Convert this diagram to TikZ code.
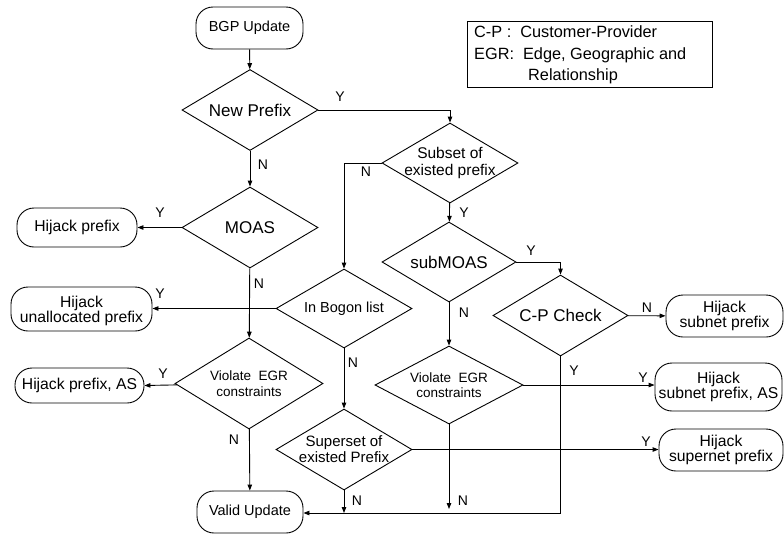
\documentclass[tikz,border=0pt]{standalone}
\usepackage{fontspec}
\setmainfont{Liberation Sans}
\usetikzlibrary{shapes.geometric,arrows.meta,calc}
\newcommand{\fs}[1]{\fontsize{#1pt}{#1pt}\selectfont}
\tikzset{
  dia/.style={draw, shape=diamond, inner sep=0pt, line width=0.9pt},
  term/.style={draw, rectangle, rounded corners=17pt, inner sep=0pt, align=center, line width=0.9pt, font=\fs{15.7}},
  txt/.style={inner sep=0pt, align=center},
  lab/.style={inner sep=0pt, font=\fs{14}},
  arr/.style={-{Triangle[length=6pt,width=4.5pt]}, line width=0.9pt},
  ln/.style={line width=0.9pt}
}
\begin{document}
\begin{tikzpicture}[x=1pt,y=-1pt]
\useasboundingbox (0,0) rectangle (784,533);
% terminals
\node[term, minimum width=107pt, minimum height=42pt, font=\fs{14.5}] (bgp) at (249.5,28) {BGP Update};
\node[term, minimum width=120pt, minimum height=39pt] (hp) at (77,227.5) {Hijack prefix};
\node[term, minimum width=141pt, minimum height=44pt, text depth=0pt] (hu) at (81.5,309) {Hijack\\[-1pt]unallocated prefix};
\node[term, minimum width=129pt, minimum height=35pt] (hpas) at (79.5,385.5) {Hijack prefix, AS};
\node[term, minimum width=106pt, minimum height=42pt, font=\fs{14.5}] (valid) at (250,512) {Valid Update};
\node[term, minimum width=117pt, minimum height=42pt] (hs) at (724.5,316) {Hijack\\[-1pt]subnet prefix};
\node[term, minimum width=127pt, minimum height=48pt] (hsas) at (718.5,387) {Hijack\\[-1pt]subnet prefix, AS};
\node[term, minimum width=124pt, minimum height=42pt] (hsup) at (721,450) {Hijack\\[-1pt]supernet prefix};
% diamonds
\node[dia, minimum width=136pt, minimum height=81pt] (np) at (250,110) {};
\node[txt, font=\fs{17}] (npt) at (np.center) {New Prefix};
\node[dia, minimum width=136pt, minimum height=81pt] (moas) at (250,227.5) {};
\node[txt, font=\fs{17}] (moast) at (moas.center) {MOAS};
\node[dia, minimum width=136pt, minimum height=79pt] (bog) at (344,308.5) {};
\node[txt, font=\fs{14.5}] (bogt) at (bog.center) {In Bogon list};
\node[dia, minimum width=148pt, minimum height=91pt] (v1) at (249,383.5) {};
\node[txt, font=\fs{13.5}] (v1t) at (v1.center) {Violate\ \ EGR\\[2pt]constraints};
\node[dia, minimum width=136pt, minimum height=81pt] (sup) at (344,449.5) {};
\node[txt, font=\fs{15}] (supt) at (sup.center) {Superset of\\[1pt]existed Prefix};
\node[dia, minimum width=136pt, minimum height=80pt] (sub) at (450,163) {};
\node[txt, font=\fs{15.5}] (subt) at (sub.center) {Subset of\\[1pt]existed prefix};
\node[dia, minimum width=134pt, minimum height=80pt] (smo) at (449,262) {};
\node[txt, font=\fs{17}] (smot) at (smo.center) {subMOAS};
\node[dia, minimum width=135pt, minimum height=81pt] (cp) at (560.5,315.5) {};
\node[txt, font=\fs{17}] (cpt) at (cp.center) {C-P Check};
\node[dia, minimum width=148pt, minimum height=78pt] (v2) at (449,385) {};
\node[txt, font=\fs{13.5}] (v2t) at (v2.center) {Violate\ \ EGR\\[2pt]constraints};
% legend
\draw[line width=0.9pt] (467,21) rectangle (712,87);
\node[inner sep=0pt, anchor=base west, font=\fs{16.3}] (lg1) at (474,37.5) {C-P :\ \ Customer-Provider};
\node[inner sep=0pt, anchor=base west, font=\fs{16.3}] (lg2) at (474,59) {EGR:\ \ Edge, Geographic and};
\node[inner sep=0pt, anchor=base west, font=\fs{16.3}] (lg3) at (528,80.5) {Relationship};
% connectors
\draw[arr] (bgp) -- (np);
\draw[arr] (np.east) -| (sub.north);
\draw[arr] (np) -- (moas);
\draw[arr] (moas) -- (hp);
\draw[arr] (moas) -- (v1);
\draw[arr] (bog.west) -- (bog.west -| hu.east);
\draw[arr] (v1) -- (hpas.east);
\draw[arr] (v1) -- (valid);
\draw[arr] (sub.west) -| (bog.north);
\draw[arr] (sub) -- (smo);
\draw[arr] (bog) -- (sup);
\draw[arr] (smo.east) -| (cp.north);
\draw[arr] (cp) -- (hs);
\coordinate (cpb) at (cp.south |- 0,513);
\draw[arr] (cp.south) -- (cpb) -- (cpb -| valid.east);
\draw[arr] (smo) -- (v2);
\draw[arr] (v2.east) -- (v2.east -| hsas.west);
\draw[arr] (v2.south) -- ($(v2.south |- cpb)+(0,-4)$);
\draw[arr] (sup.east) -- (sup.east -| hsup.west);
\draw[arr] (sup.south) -- (sup.south |- cpb);
% labels
\node[lab] (l1) at (340,97) {Y};
\node[lab] (l2) at (263,165) {N};
\node[lab] (l3) at (160,213) {Y};
\node[lab] (l4) at (259,284) {N};
\node[lab] (l5) at (160,294) {Y};
\node[lab] (l6) at (163,374) {Y};
\node[lab] (l7) at (234,440) {N};
\node[lab] (l8) at (366,172) {N};
\node[lab] (l9) at (464,213) {Y};
\node[lab] (l10) at (353,363) {N};
\node[lab] (l11) at (531,251) {Y};
\node[lab] (l12) at (647,308) {N};
\node[lab] (l13) at (574,371) {Y};
\node[lab] (l14) at (464,313) {N};
\node[lab] (l15) at (643,378) {Y};
\node[lab] (l16) at (463,501) {N};
\node[lab] (l17) at (646,442) {Y};
\node[lab] (l18) at (357,501) {N};
\end{tikzpicture}
\end{document}
